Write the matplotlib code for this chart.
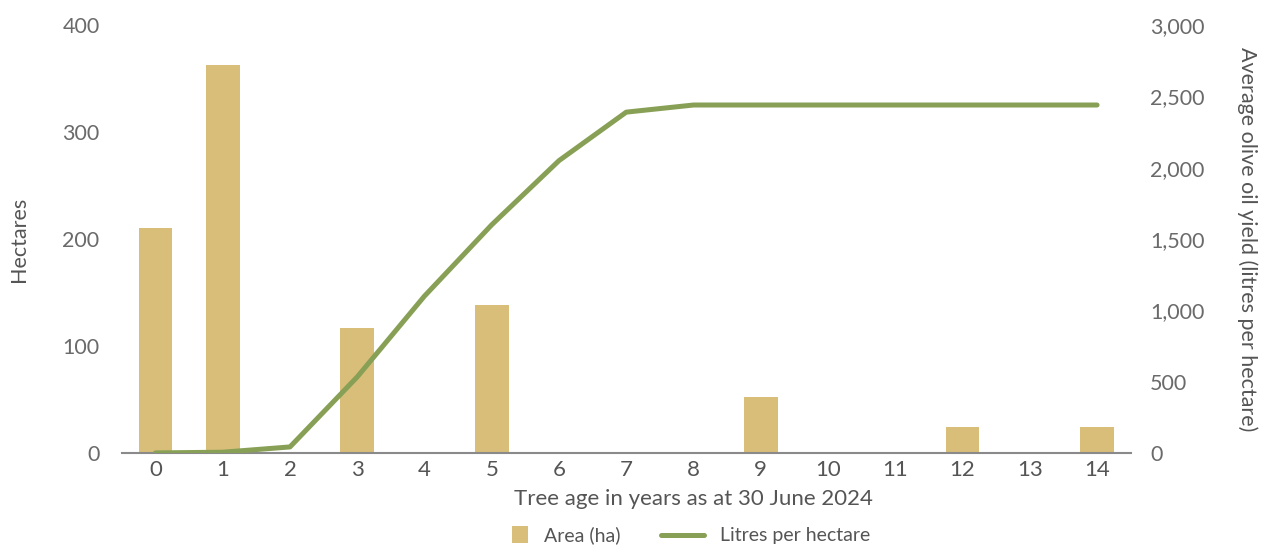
import matplotlib.pyplot as plt
from matplotlib.lines import Line2D
from matplotlib.patches import Rectangle
from matplotlib.legend_handler import HandlerPatch
from matplotlib.ticker import FuncFormatter

# Tree age (years) vs planted area and average oil yield
ages = list(range(15))
area_ha = [210, 363, 0, 117, 0, 138, 0, 0, 0, 52, 0, 0, 24, 0, 24]
litres_per_ha = [0, 5, 42, 533, 1100, 1600, 2050, 2390, 2440, 2440, 2440, 2440, 2440, 2440, 2440]

BAR_COLOR = "#D9BE7A"
LINE_COLOR = "#87A055"
TEXT_COLOR = "#6a6a6a"

plt.rcParams["font.family"] = ["Lato", "DejaVu Sans"]


def square_swatch(legend, orig_handle, xdescent, ydescent, width, height, fontsize):
    # small square pushed to the right end of the handle box, next to its text
    side = height * 1.2
    return Rectangle((width - side - xdescent, (height - side) / 2 - ydescent),
                     side, side)


fig = plt.figure(figsize=(12.69, 5.47), dpi=100)
ax = fig.add_axes([0.096, 0.172, 0.795, 0.782])
ax2 = ax.twinx()

bars = ax.bar(ages, area_ha, width=0.5, color=BAR_COLOR, zorder=2)
ax2.plot(ages, litres_per_ha, color=LINE_COLOR, linewidth=3.6,
         solid_capstyle="round", zorder=3)

ax.set_xlim(-0.5, 14.5)
ax.set_ylim(0, 400)
ax2.set_ylim(0, 3000)
ax.set_xticks(ages)
ax.set_yticks([0, 100, 200, 300, 400])
ax2.set_yticks(range(0, 3001, 500))
ax2.yaxis.set_major_formatter(FuncFormatter(lambda v, _: f"{int(v):,}"))

for a in (ax, ax2):
    for side in ("top", "left", "right", "bottom"):
        a.spines[side].set_visible(False)
    a.tick_params(length=0, labelsize=15.5, labelcolor=TEXT_COLOR)
ax.spines["bottom"].set_visible(True)
ax.spines["bottom"].set_color("#8a8a8a")
ax.spines["bottom"].set_linewidth(1.5)
ax.tick_params(axis="y", pad=16)
ax.tick_params(axis="x", labelsize=16, labelcolor="#555555", pad=5)
ax2.tick_params(axis="y", pad=14)

ax.set_ylabel("Hectares", fontsize=15.5, color="#555555", labelpad=24)
ax2.set_ylabel("Average olive oil yield (litres per hectare)", fontsize=15.5,
               color="#555555", rotation=270, labelpad=38)
ax.set_xlabel("Tree age in years as at 30 June 2024", fontsize=16,
              color="#555555", labelpad=5)
ax.xaxis.set_label_coords(0.567, -0.085)

handles = [
    bars.patches[0],
    Line2D([], [], color=LINE_COLOR, linewidth=3.6, solid_capstyle="round"),
]
fig.legend(handles, ["Area (ha)", "Litres per hectare"], loc="center",
           bbox_to_anchor=(0.534, 0.021), ncol=2, frameon=False, fontsize=14,
           labelcolor="#555555", handlelength=2.2, handletextpad=0.8,
           columnspacing=2.1,
           handler_map={Rectangle: HandlerPatch(patch_func=square_swatch)})

plt.savefig("out.png", dpi=100)
plt.close()
